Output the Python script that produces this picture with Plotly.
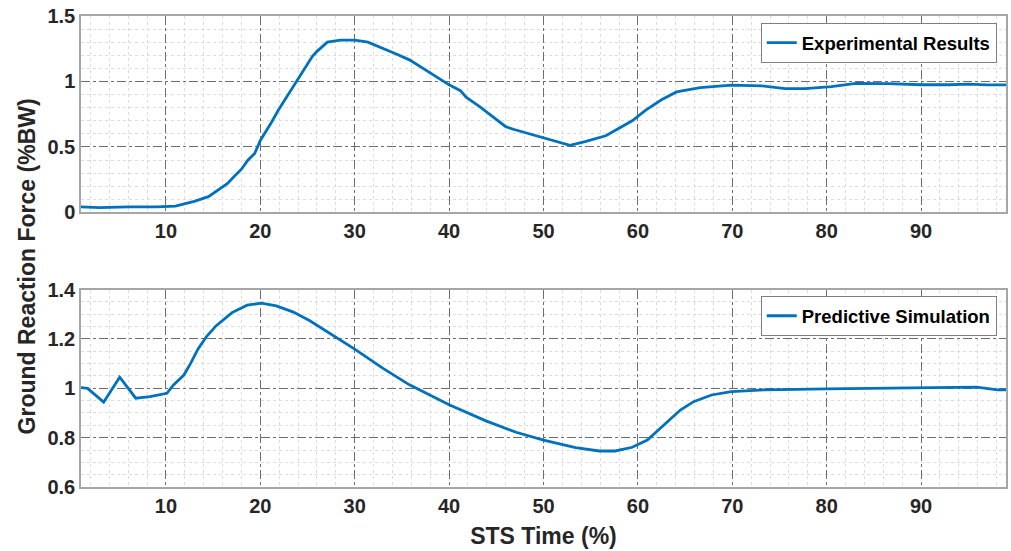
import plotly.graph_objects as go
from plotly.subplots import make_subplots

# Experimental results (top panel)
exp_x = [1, 3, 6, 9, 11, 13, 14.5, 15.5, 16.5, 17.3, 18, 18.7, 19.4, 20, 20.7, 21.2, 21.9, 22.6,
         23.5, 24.4, 25.5, 26, 27.1, 28.5, 30, 31.4, 32.8, 34.4, 35.8, 37.2, 38.6, 40, 41.2, 41.8,
         43.2, 44.6, 46, 46.8, 48.5, 50, 51.3, 52.8, 54.4, 56.6, 58, 59.4, 60.8, 62.5, 64.1, 66.6,
         69.9, 73.1, 75.6, 77.7, 80.5, 83.1, 86.5, 90, 93, 95, 97, 99]
exp_y = [0.043, 0.036, 0.043, 0.042, 0.048, 0.085, 0.12, 0.17, 0.22, 0.28, 0.33, 0.40, 0.45, 0.55,
         0.63, 0.69, 0.78, 0.86, 0.97, 1.07, 1.19, 1.23, 1.30, 1.315, 1.316, 1.30, 1.26, 1.21, 1.165,
         1.10, 1.04, 0.974, 0.93, 0.88, 0.81, 0.73, 0.655, 0.635, 0.60, 0.57, 0.545, 0.512, 0.54,
         0.585, 0.643, 0.70, 0.78, 0.86, 0.92, 0.953, 0.972, 0.967, 0.946, 0.946, 0.961, 0.985,
         0.984, 0.975, 0.975, 0.98, 0.974, 0.974]

# Predictive simulation (bottom panel)
sim_x = [1, 1.7, 3.4, 5.1, 6.8, 8.3, 10.1, 10.8, 11.9, 12.6, 13.4, 14.3, 15.3, 17, 18.6, 20.1,
         21.7, 23.5, 25.2, 26.6, 28.4, 30, 33, 35.8, 40, 43.9, 47.1, 50, 53.4, 55.9, 57.6, 59.4,
         61, 62.9, 64.5, 65.9, 67.8, 69.9, 73.4, 80, 90, 94.9, 95.9, 98.1, 99]
sim_y = [1.003, 1.0, 0.944, 1.045, 0.96, 0.966, 0.98, 1.014, 1.054, 1.10, 1.16, 1.21, 1.253, 1.307,
         1.337, 1.345, 1.334, 1.309, 1.275, 1.241, 1.199, 1.159, 1.081, 1.014, 0.933, 0.868, 0.822,
         0.79, 0.76, 0.746, 0.746, 0.761, 0.79, 0.858, 0.912, 0.946, 0.973, 0.987, 0.994, 0.998,
         1.003, 1.007, 1.005, 0.994, 0.994]

x_ticks = [10, 20, 30, 40, 50, 60, 70, 80, 90]
top_ticks = [0, 0.5, 1, 1.5]
top_labels = ["0", "0.5", "1", "1.5"]
bot_ticks = [0.6, 0.8, 1.0, 1.2, 1.4]
bot_labels = ["0.6", "0.8", "1", "1.2", "1.4"]

FONT = "Liberation Sans, Arial, sans-serif"
TXT = "#262626"
BLUE = "#0072BD"

fig = make_subplots(rows=2, cols=1, vertical_spacing=0.0)

fig.add_trace(go.Scatter(x=exp_x, y=exp_y, mode="lines", name="Experimental Results",
                         line=dict(color=BLUE, width=2.8), legend="legend"), row=1, col=1)
fig.add_trace(go.Scatter(x=sim_x, y=sim_y, mode="lines", name="Predictive Simulation",
                         line=dict(color=BLUE, width=2.8), legend="legend2"), row=2, col=1)

common_x = dict(range=[1, 99], tickvals=x_ticks, showline=True, mirror=True,
                linecolor="#a6a6a6", linewidth=1.5, showgrid=True, gridcolor="#6e6e6e",
                griddash="dashdot", gridwidth=1, zeroline=False, ticks="",
                tickfont=dict(family=FONT, size=20, color=TXT, weight="bold"),
                minor=dict(dtick=2, tick0=0, showgrid=True, gridcolor="#dcdcdc",
                           griddash="dot", gridwidth=1))
fig.update_xaxes(**common_x, row=1, col=1)
fig.update_xaxes(**common_x, row=2, col=1)
fig.update_xaxes(title=dict(text="STS Time (%)", font=dict(family=FONT, size=23, color=TXT,
                                                              weight="bold"), standoff=12),
                 row=2, col=1)

common_y = dict(showline=True, mirror=True, linecolor="#a6a6a6", linewidth=1.5,
                showgrid=True, gridcolor="#6e6e6e", griddash="dashdot", gridwidth=1,
                zeroline=False, ticks="",
                tickfont=dict(family=FONT, size=20, color=TXT, weight="bold"))
fig.update_yaxes(**common_y, range=[0, 1.5], tickvals=top_ticks, ticktext=top_labels,
                 minor=dict(dtick=0.1, tick0=0, showgrid=True, gridcolor="#dcdcdc",
                            griddash="dot", gridwidth=1),
                 domain=[0.583, 1.0], row=1, col=1)
fig.update_yaxes(**common_y, range=[0.6, 1.4], tickvals=bot_ticks, ticktext=bot_labels,
                 minor=dict(dtick=0.05, tick0=0, showgrid=True, gridcolor="#dcdcdc",
                            griddash="dot", gridwidth=1),
                 domain=[0.0, 0.419], row=2, col=1)

legend_style = dict(xanchor="right", yanchor="top", bgcolor="white", bordercolor="#7f7f7f",
                    borderwidth=1, font=dict(family=FONT, size=18.5, color="black", weight="bold"),
                    tracegroupgap=0, itemwidth=30)
fig.update_layout(
    width=1011, height=551,
    margin=dict(l=81, r=3, t=16, b=64),
    plot_bgcolor="white", paper_bgcolor="white",
    showlegend=True,
    legend=dict(x=0.99, y=0.985, **legend_style),
    legend2=dict(x=0.99, y=0.405, **legend_style),
    annotations=[dict(text="Ground Reaction Force (%BW)", textangle=-90, xref="paper", yref="paper",
                      x=-0.058, y=0.469, xanchor="center", yanchor="middle", showarrow=False,
                      font=dict(family=FONT, size=23, color=TXT, weight="bold"))],
)

fig.write_html("out.html")
